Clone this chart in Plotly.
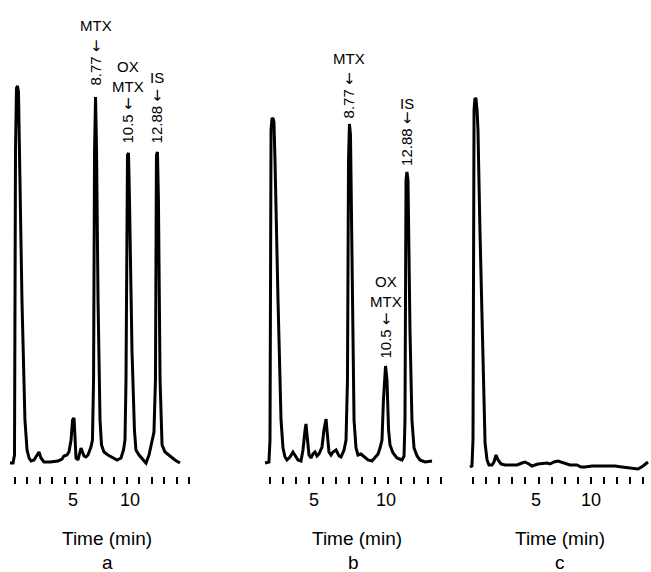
import plotly.graph_objects as go

# ---------------- data (time in min, detector response in arbitrary units) ----------------
time_a = [-0.40, -0.16, -0.04, 0.04, 0.12, 0.20, 0.28, 0.36, 0.56, 0.80, 0.97, 1.13, 1.29, 1.53,
          1.77, 1.93, 2.09, 2.33, 2.82, 3.46, 3.78, 3.94, 4.18, 4.34, 4.51, 4.63, 4.75, 4.83,
          4.91, 5.07, 5.23, 5.31, 5.43, 5.55, 5.71, 5.87, 6.11, 6.23, 6.32, 6.40, 6.48, 6.56,
          6.68, 6.84, 6.96, 7.16, 7.48, 7.80, 8.21, 8.53, 8.73, 8.85, 8.93, 9.05, 9.13, 9.21,
          9.41, 9.61, 9.73, 9.98, 10.30, 10.54, 10.78, 11.02, 11.18, 11.30, 11.38, 11.46, 11.54,
          11.67, 11.83, 12.07, 12.47, 12.87, 13.27]
resp_a = [-1, -1, 7, 312, 374, 376, 370, 312, 162, 42, 12, 4, 1, 2,
          7, 10, 4, 0, 0, 1, 3, 6, 7, 10, 22, 42, 44, 22,
          4, 2, 10, 14, 10, 6, 5, 7, 15, 22, 82, 312, 365, 312,
          162, 42, 17, 10, 7, 5, 2, 4, 12, 22, 82, 307, 309, 262,
          112, 32, 12, 7, 2, -1, 7, 20, 30, 82, 307, 310, 262,
          82, 17, 10, 6, 2, -1]

time_b = [-0.38, -0.08, 0.00, 0.08, 0.15, 0.23, 0.30, 0.38, 0.61, 0.84, 0.99, 1.14, 1.29, 1.52,
          1.75, 1.90, 2.13, 2.36, 2.51, 2.67, 2.74, 2.82, 2.97, 3.12, 3.27, 3.43, 3.58, 3.73,
          3.96, 4.11, 4.27, 4.34, 4.49, 4.65, 4.80, 5.03, 5.26, 5.41, 5.64, 5.79, 5.90, 5.98,
          6.05, 6.13, 6.25, 6.40, 6.55, 6.70, 6.93, 7.16, 7.46, 7.77, 8.00, 8.23, 8.38, 8.53,
          8.64, 8.80, 8.91, 9.03, 9.14, 9.37, 9.67, 10.05, 10.21, 10.28, 10.36, 10.43, 10.51,
          10.66, 10.81, 10.97, 11.20, 11.42, 11.81, 12.34]
resp_b = [-1, 0, 22, 332, 343, 344, 340, 302, 162, 42, 14, 5, 2, 5,
          10, 7, 2, 1, 12, 32, 38, 27, 7, 4, 8, 10, 6, 8,
          15, 32, 43, 32, 10, 7, 10, 12, 6, 5, 12, 22, 82, 302,
          338, 327, 182, 42, 14, 7, 8, 5, 2, 1, 4, 8, 14, 22,
          62, 96, 82, 32, 17, 9, 4, 2, 6, 42, 282, 290, 282,
          132, 42, 14, 6, 2, 0, 1]

time_c = [-0.23, -0.08, 0.00, 0.08, 0.15, 0.23, 0.31, 0.38, 0.53, 0.76, 0.92, 1.07, 1.22, 1.45,
          1.60, 1.76, 1.91, 2.14, 2.44, 2.82, 3.36, 3.74, 3.97, 4.27, 4.50, 4.96, 5.42, 5.65,
          5.88, 6.18, 6.49, 6.95, 7.40, 7.94, 8.24, 8.55, 9.08, 9.92, 10.84, 11.37, 11.98,
          12.60, 12.98, 13.36]
resp_c = [-5, -4, 22, 352, 364, 363, 352, 332, 232, 102, 19, 2, -3, -3,
          0, 7, 2, -2, -3, -3, -3, -1, 0, -2, -4, -2, -1, -1,
          -2, 0, 1, -1, -3, -3, -5, -5, -4, -4, -4, -5, -6,
          -7, -4, 0]

tick_times_a = list(range(15))
tick_times_b = list(range(14))
tick_times_c = list(range(14))
tick_labels = ["5", "10"]
label_pos_a = [4.67, 9.25]
label_pos_b = [3.35, 8.83]
label_pos_c = [4.81, 9.01]
axis_title = "Time (min)"

ARROW = '<span style="font-family:DejaVu Sans">\u2190</span>'
# peak labels: (peak time, peak response, name, retention time text, name offset, rt offset)
peaks_a = [(6.48, 365, "MTX", "8.77", 72, 34),
           (9.13, 309, "OX<br>MTX", "10.5", 77, 33),
           (11.46, 310, "IS", "12.88", 75, 36)]
peaks_b = [(6.05, 338, "MTX", "8.77", 66, 29),
           (8.80, 96, "OX<br>MTX", "10.5", 75, 30),
           (10.43, 290, "IS", "12.88", 69, 33)]

# ---------------- layout geometry ----------------
W, H = 651, 572
FONT = "Liberation Sans, Arial, sans-serif"
BASE_PX = 462      # pixel row of zero response
AXIS_PX = 476      # pixel row of tick start

# panel: (pixel of t=0, pixels per min, left px, right px)
panels = {
    "a": (15.0, 12.43, 5, 195),
    "b": (270.0, 13.13, 260, 450),
    "c": (473.0, 13.10, 463, 651),
}


def xaxis_cfg(key, ticks):
    o, s, l, r = panels[key]
    return dict(domain=[l / W, r / W], range=[(l - o) / s, (r - o) / s], anchor="y",
                tickmode="array", tickvals=ticks, ticks="outside", ticklen=7, tickwidth=2,
                tickcolor="black", showticklabels=False, showgrid=False, zeroline=False,
                showline=False, fixedrange=True)


fig = go.Figure()
line = dict(color="black", width=3)
fig.add_trace(go.Scatter(x=time_a, y=resp_a, mode="lines", line=line, xaxis="x", yaxis="y"))
fig.add_trace(go.Scatter(x=time_b, y=resp_b, mode="lines", line=line, xaxis="x2", yaxis="y"))
fig.add_trace(go.Scatter(x=time_c, y=resp_c, mode="lines", line=line, xaxis="x3", yaxis="y"))

annotations = []
for xref, peaks in (("x", peaks_a), ("x2", peaks_b)):
    for t, h, name, rt, sh_name, sh_rt in peaks:
        annotations.append(dict(x=t, y=h, xref=xref, yref="y", text=name, showarrow=False,
                                xanchor="center", yanchor="middle", yshift=sh_name,
                                font=dict(family=FONT, size=15, color="black")))
        annotations.append(dict(x=t, y=h, xref=xref, yref="y", text=rt + " " + ARROW,
                                showarrow=False, textangle=-90, xanchor="center",
                                yanchor="middle", yshift=sh_rt,
                                font=dict(family=FONT, size=15, color="black")))

for xref, pos in (("x", label_pos_a), ("x2", label_pos_b), ("x3", label_pos_c)):
    for p, txt in zip(pos, tick_labels):
        annotations.append(dict(x=p, y=1 - 500 / H, xref=xref, yref="paper", text=txt,
                                showarrow=False, xanchor="center", yanchor="middle",
                                font=dict(family=FONT, size=18, color="black")))

centers_title = {"a": 107, "b": 357, "c": 560}
centers_letter = {"a": 107, "b": 353, "c": 560}
for key, xref in (("a", "x"), ("b", "x2"), ("c", "x3")):
    o, s, l, r = panels[key]
    annotations.append(dict(x=(centers_title[key] - o) / s, y=1 - 538 / H, xref=xref, yref="paper",
                            text=axis_title, showarrow=False, xanchor="center", yanchor="middle",
                            font=dict(family=FONT, size=19, color="black")))
    annotations.append(dict(x=(centers_letter[key] - o) / s, y=1 - 562 / H, xref=xref,
                            yref="paper", text=key, showarrow=False, xanchor="center",
                            yanchor="middle", font=dict(family=FONT, size=19, color="black")))

fig.update_layout(
    width=W, height=H, margin=dict(l=0, r=0, t=0, b=0),
    paper_bgcolor="white", plot_bgcolor="white", showlegend=False,
    xaxis=xaxis_cfg("a", tick_times_a),
    xaxis2=xaxis_cfg("b", tick_times_b),
    xaxis3=xaxis_cfg("c", tick_times_c),
    yaxis=dict(domain=[1 - AXIS_PX / H, 1], range=[BASE_PX - AXIS_PX, BASE_PX], visible=False,
               fixedrange=True),
    annotations=annotations,
)

fig.write_html("out.html")
